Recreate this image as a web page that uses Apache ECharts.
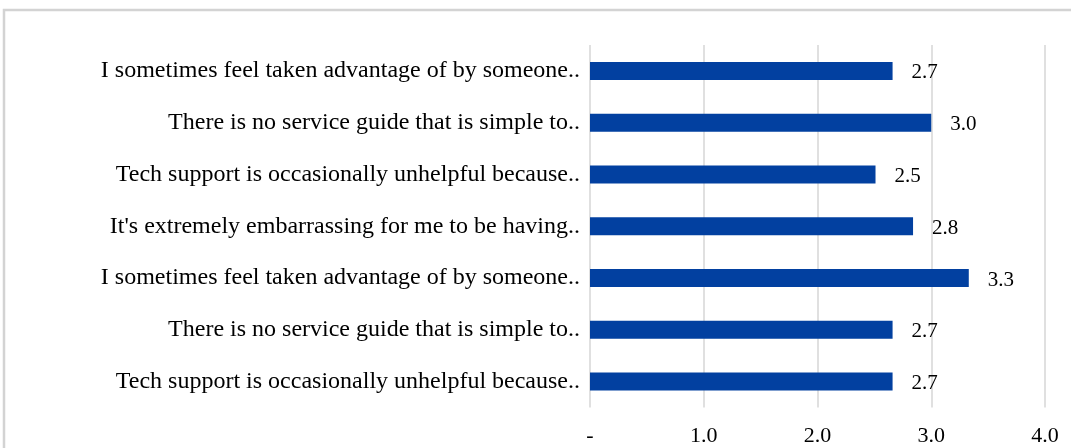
<!DOCTYPE html>
<html>
<head>
<meta charset="utf-8">
<script src="https://cdn.jsdelivr.net/npm/echarts@6/dist/echarts.min.js"></script>
<style>
html,body{margin:0;padding:0;background:#fff;}
#chart{width:1071px;height:448px;}
</style>
</head>
<body>
<div id="chart"></div>
<script>
const categories = [
  "I sometimes feel taken advantage of by someone..",
  "There is no service guide that is simple to..",
  "Tech support is occasionally unhelpful because..",
  "It's extremely embarrassing for me to be having..",
  "I sometimes feel taken advantage of by someone..",
  "There is no service guide that is simple to..",
  "Tech support is occasionally unhelpful because.."
];
const values = [2.66, 3.0, 2.51, 2.84, 3.33, 2.66, 2.66];
const xTicks = [0, 1, 2, 3, 4];

const chart = echarts.init(document.getElementById('chart'));
const serif = '"Liberation Serif", "DejaVu Serif", serif';
chart.setOption({
  animation: false,
  backgroundColor: '#fff',
  graphic: [{
    type: 'rect',
    shape: { x: 4, y: 10, width: 1200, height: 600 },
    style: { fill: 'none', stroke: '#d3d3d3', lineWidth: 2.5 },
    silent: true
  }],
  grid: { left: 590, right: 26, top: 45, bottom: 40.5, containLabel: false },
  xAxis: {
    type: 'value',
    min: xTicks[0],
    max: xTicks[xTicks.length - 1],
    interval: 1,
    axisLine: { show: false },
    axisTick: { show: false },
    splitLine: { show: true, lineStyle: { color: '#d6d6d6', width: 1.5 } },
    axisLabel: {
      margin: 18,
      fontFamily: serif,
      fontSize: 22,
      color: '#000',
      formatter: v => v === 0 ? '-' : v.toFixed(1)
    }
  },
  yAxis: {
    type: 'category',
    data: categories,
    inverse: true,
    axisLine: { show: false },
    axisTick: { show: false },
    axisLabel: {
      margin: 10,
      fontFamily: serif,
      fontSize: 24,
      color: '#000'
    }
  },
  series: [{
    type: 'bar',
    data: values,
    barWidth: 18,
    itemStyle: { color: '#0240a0' },
    label: {
      show: true,
      position: 'right',
      distance: 19,
      offset: [0, 2],
      fontFamily: serif,
      fontSize: 21,
      color: '#000',
      formatter: p => p.value.toFixed(1)
    }
  }]
});
</script>
</body>
</html>
